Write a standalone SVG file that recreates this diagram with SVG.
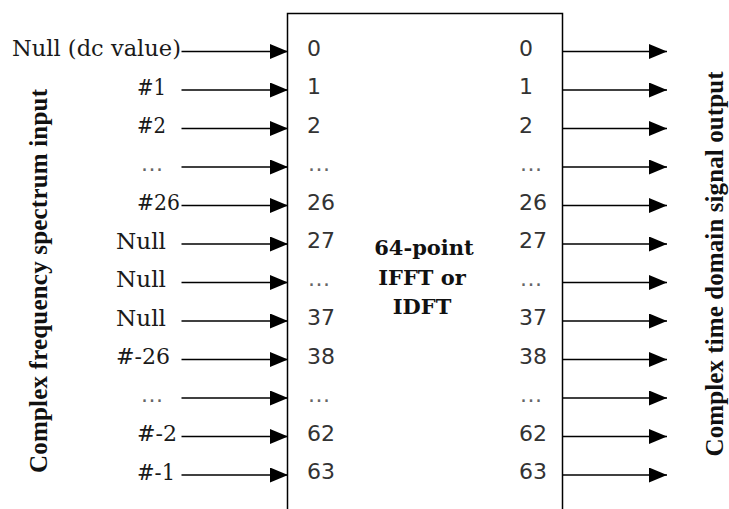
<svg xmlns="http://www.w3.org/2000/svg" width="729" height="509" viewBox="0 0 729 509">
  <style>
    .lbl { font-family: "DejaVu Serif", "Liberation Serif", serif; font-size: 22px; fill: #1a1a1a; }
    .num { font-family: "DejaVu Sans", "Liberation Sans", sans-serif; font-size: 22px; fill: #333; }
    .dots { font-family: "DejaVu Sans", "Liberation Sans", sans-serif; font-size: 22px; fill: #666; }
    .title { font-family: "DejaVu Serif", "Liberation Serif", serif; font-size: 21px; font-weight: bold; fill: #111; text-anchor: middle; }
    .side { font-family: "Liberation Serif", "Times New Roman", serif; font-size: 25px; font-weight: bold; fill: #111; text-anchor: middle; }
    .conn line { stroke: #000; stroke-width: 1.5; marker-end: url(#ah); }
  </style>
  <defs>
    <marker id="ah" viewBox="0 0 18 15" refX="18" refY="7.5" markerWidth="18" markerHeight="15" markerUnits="userSpaceOnUse" orient="auto">
      <path d="M0,0 L18,7.5 L0,15 Z" fill="#000"/>
    </marker>
  </defs>
  <rect width="729" height="509" fill="#fff"/>

  <g id="ifft-block">
    <rect x="287.5" y="13.5" width="275" height="520" fill="#fff" stroke="#000" stroke-width="1.5"/>
    <text class="title" x="424" y="255">64-point</text>
    <text class="title" x="422" y="284.5">IFFT or</text>
    <text class="title" x="422" y="314">IDFT</text>
  </g>

  <g id="input-ports">
    <text class="num" x="307" y="55.5">0</text>
    <text class="num" x="307" y="94">1</text>
    <text class="num" x="307" y="132.5">2</text>
    <text class="dots" x="308" y="170.5" textLength="22">...</text>
    <text class="num" x="307" y="209.5">26</text>
    <text class="num" x="307" y="248">27</text>
    <text class="dots" x="308" y="286" textLength="22">...</text>
    <text class="num" x="307" y="325">37</text>
    <text class="num" x="307" y="363.5">38</text>
    <text class="dots" x="308" y="401.5" textLength="22">...</text>
    <text class="num" x="307" y="440.5">62</text>
    <text class="num" x="307" y="479">63</text>
  </g>

  <g id="output-ports">
    <text class="num" x="519" y="55.5">0</text>
    <text class="num" x="519" y="94">1</text>
    <text class="num" x="519" y="132.5">2</text>
    <text class="dots" x="520" y="170.5" textLength="22">...</text>
    <text class="num" x="519" y="209.5">26</text>
    <text class="num" x="519" y="248">27</text>
    <text class="dots" x="520" y="286" textLength="22">...</text>
    <text class="num" x="519" y="325">37</text>
    <text class="num" x="519" y="363.5">38</text>
    <text class="dots" x="520" y="401.5" textLength="22">...</text>
    <text class="num" x="519" y="440.5">62</text>
    <text class="num" x="519" y="479">63</text>
  </g>

  <g id="input-labels">
    <text class="lbl" x="12" y="56" textLength="169" lengthAdjust="spacingAndGlyphs">Null (dc value)</text>
    <text class="lbl" x="137" y="94.5" textLength="29" lengthAdjust="spacingAndGlyphs">#1</text>
    <text class="lbl" x="137" y="133" textLength="29" lengthAdjust="spacingAndGlyphs">#2</text>
    <text class="dots" x="141" y="170.5" textLength="22">...</text>
    <text class="lbl" x="137" y="210" textLength="43" lengthAdjust="spacingAndGlyphs">#26</text>
    <text class="lbl" x="116" y="248.5" textLength="50" lengthAdjust="spacingAndGlyphs">Null</text>
    <text class="lbl" x="116" y="287" textLength="50" lengthAdjust="spacingAndGlyphs">Null</text>
    <text class="lbl" x="116" y="325.5" textLength="50" lengthAdjust="spacingAndGlyphs">Null</text>
    <text class="lbl" x="116" y="364" textLength="54" lengthAdjust="spacingAndGlyphs">#-26</text>
    <text class="dots" x="141" y="401.5" textLength="22">...</text>
    <text class="lbl" x="137" y="441" textLength="40" lengthAdjust="spacingAndGlyphs">#-2</text>
    <text class="lbl" x="137" y="479.5" textLength="38" lengthAdjust="spacingAndGlyphs">#-1</text>
  </g>

  <g id="input-axis-label">
    <text class="side" transform="translate(47,281) rotate(-90)" textLength="384">Complex frequency spectrum input</text>
  </g>
  <g id="output-axis-label">
    <text class="side" transform="translate(723,264) rotate(-90)" textLength="385">Complex time domain signal output</text>
  </g>

  <g id="connectors" class="conn">
    <line x1="181.5" y1="51.5" x2="288" y2="51.5"/>
    <line x1="181.5" y1="90" x2="288" y2="90"/>
    <line x1="181.5" y1="128.5" x2="288" y2="128.5"/>
    <line x1="181.5" y1="167" x2="288" y2="167"/>
    <line x1="181.5" y1="205.5" x2="288" y2="205.5"/>
    <line x1="181.5" y1="244" x2="288" y2="244"/>
    <line x1="181.5" y1="282.5" x2="288" y2="282.5"/>
    <line x1="181.5" y1="321" x2="288" y2="321"/>
    <line x1="181.5" y1="359.5" x2="288" y2="359.5"/>
    <line x1="181.5" y1="398" x2="288" y2="398"/>
    <line x1="181.5" y1="436.5" x2="288" y2="436.5"/>
    <line x1="181.5" y1="475" x2="288" y2="475"/>

    <line x1="563" y1="51.5" x2="667" y2="51.5"/>
    <line x1="563" y1="90" x2="667" y2="90"/>
    <line x1="563" y1="128.5" x2="667" y2="128.5"/>
    <line x1="563" y1="167" x2="667" y2="167"/>
    <line x1="563" y1="205.5" x2="667" y2="205.5"/>
    <line x1="563" y1="244" x2="667" y2="244"/>
    <line x1="563" y1="282.5" x2="667" y2="282.5"/>
    <line x1="563" y1="321" x2="667" y2="321"/>
    <line x1="563" y1="359.5" x2="667" y2="359.5"/>
    <line x1="563" y1="398" x2="667" y2="398"/>
    <line x1="563" y1="436.5" x2="667" y2="436.5"/>
    <line x1="563" y1="475" x2="667" y2="475"/>
  </g>
</svg>
